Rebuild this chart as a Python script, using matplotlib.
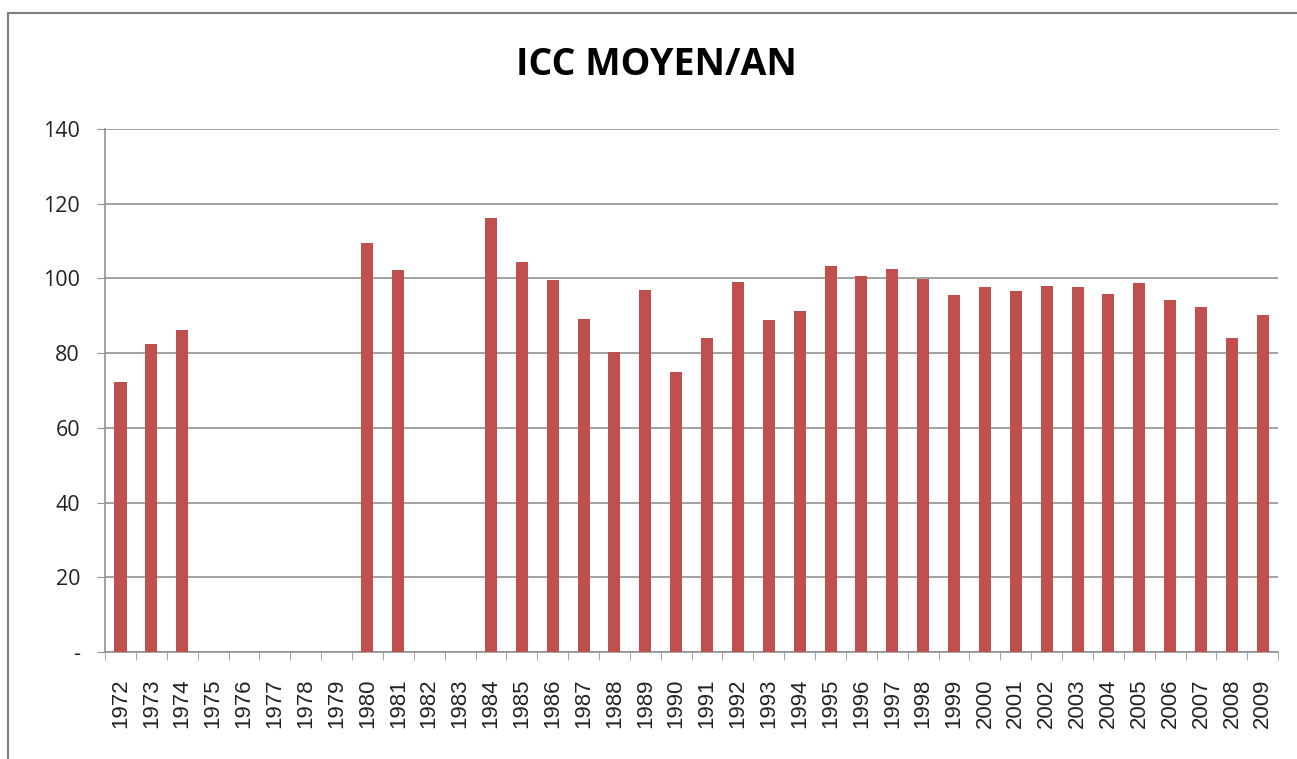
import numpy as np
import matplotlib
matplotlib.use('Agg')
import matplotlib.pyplot as plt
from matplotlib.lines import Line2D

years = [str(y) for y in range(1972, 2010)]
icc = [72.4, 82.4, 86.3, None, None, None, None, None, 109.5, 102.3,
       None, None, 116.3, 104.5, 99.5, 89.2, 80.2, 97.0, 74.9, 84.1,
       99.1, 88.8, 91.3, 103.4, 100.6, 102.4, 99.9, 95.6, 97.8, 96.7,
       98.1, 97.8, 95.9, 98.8, 94.2, 92.4, 84.1, 90.2]
yticks = [0, 20, 40, 60, 80, 100, 120, 140]
ytick_labels = ['-', '20', '40', '60', '80', '100', '120', '140']

BAR_COLOR = '#C0504D'
GRID = '#929292'

plt.rcParams['font.family'] = ['Open Sans', 'DejaVu Sans']

fig = plt.figure(figsize=(12.97, 7.59), dpi=100)
ax = fig.add_axes([0.081, 0.141, 0.9045, 0.689])

x = np.arange(len(years))
vals = np.array([np.nan if v is None else v for v in icc])
ax.bar(x, vals, width=0.39, color=BAR_COLOR, zorder=3)

ax.set_xlim(-0.5, len(years) - 0.5)
ax.set_ylim(0, 140)
ax.set_yticks(yticks)
ax.set_yticklabels(ytick_labels, fontsize=15.5, color='#222222')
ax.yaxis.grid(True, color=GRID, linewidth=1.2)
ax.set_axisbelow(True)

# category labels at centers, tick marks at category boundaries
ax.set_xticks(x)
ax.set_xticklabels(years, rotation=90, fontsize=16, family='Liberation Sans',
                   color='#222222')
ax.tick_params(axis='x', which='major', length=0, pad=19)
ax.set_xticks(np.arange(-0.5, len(years)), minor=True)
ax.tick_params(axis='x', which='minor', length=6, color=GRID, direction='out')
ax.tick_params(axis='y', length=6, color=GRID, direction='out', pad=12)

for s in ['top', 'right']:
    ax.spines[s].set_visible(False)
for s in ['left', 'bottom']:
    ax.spines[s].set_color(GRID)
    ax.spines[s].set_linewidth(1.2)

fig.text(0.506, 0.914, 'ICC MOYEN/AN', ha='center', va='center',
         fontsize=27, fontweight='bold')

# chart border (left and top edges visible)
fig.add_artist(Line2D([0.006, 0.006], [0.0, 0.983], transform=fig.transFigure,
                      color='#808080', linewidth=1.5))
fig.add_artist(Line2D([0.006, 1.0], [0.983, 0.983], transform=fig.transFigure,
                      color='#808080', linewidth=1.5))

fig.savefig('out.png', dpi=100)
